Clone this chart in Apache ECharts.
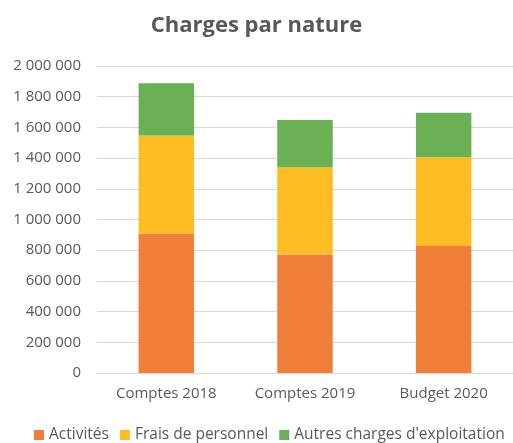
<!DOCTYPE html>
<html>
<head>
<meta charset="utf-8">
<script src="https://cdn.jsdelivr.net/npm/echarts@6/dist/echarts.min.js"></script>
<style>
  html, body { margin: 0; padding: 0; background: #fff; }
  #chart { width: 513px; height: 443px; }
</style>
</head>
<body>
<div id="chart"></div>
<script>
const categories = ["Comptes 2018", "Comptes 2019", "Budget 2020"];
const activites = [908000, 772000, 828000];
const fraisPersonnel = [640000, 568000, 577000];
const autresCharges = [339000, 308000, 291000];

const fmt = (v) => String(v).replace(/\B(?=(\d{3})+(?!\d))/g, " ");

const chart = echarts.init(document.getElementById("chart"));
const barSeries = (name, data, color) => ({
  name: name,
  type: "bar",
  stack: "total",
  data: data,
  barWidth: "40%",
  itemStyle: { color: color },
});

chart.setOption({
  animation: false,
  title: {
    text: "Charges par nature",
    left: "center",
    top: 10,
    textStyle: { fontFamily: "Open Sans", fontSize: 22, fontWeight: "bold", color: "#595959" },
  },
  legend: {
    top: 427,
    left: 34,
    width: 500,
    padding: 0,
    itemWidth: 10,
    itemHeight: 10,
    itemGap: 11,
    icon: "rect",
    textStyle: { fontFamily: "Open Sans", fontSize: 15.5, color: "#595959" },
  },
  grid: { left: 97, right: 0, top: 66, bottom: 70 },
  xAxis: {
    type: "category",
    data: categories,
    axisLine: { lineStyle: { color: "#d9d9d9" } },
    axisTick: { show: false },
    axisLabel: { fontFamily: "Open Sans", fontSize: 15, color: "#595959", margin: 13 },
  },
  yAxis: {
    type: "value",
    min: 0,
    max: 2000000,
    interval: 200000,
    axisLine: { show: false },
    axisTick: { show: false },
    axisLabel: { fontFamily: "Open Sans", fontSize: 15, color: "#595959", margin: 16, formatter: fmt },
    splitLine: { lineStyle: { color: "#d9d9d9", width: 1 } },
  },
  series: [
    barSeries("Activités", activites, "#f07f3a"),
    barSeries("Frais de personnel", fraisPersonnel, "#fcbc22"),
    barSeries("Autres charges d'exploitation", autresCharges, "#6ab155"),
  ],
});
</script>
</body>
</html>
